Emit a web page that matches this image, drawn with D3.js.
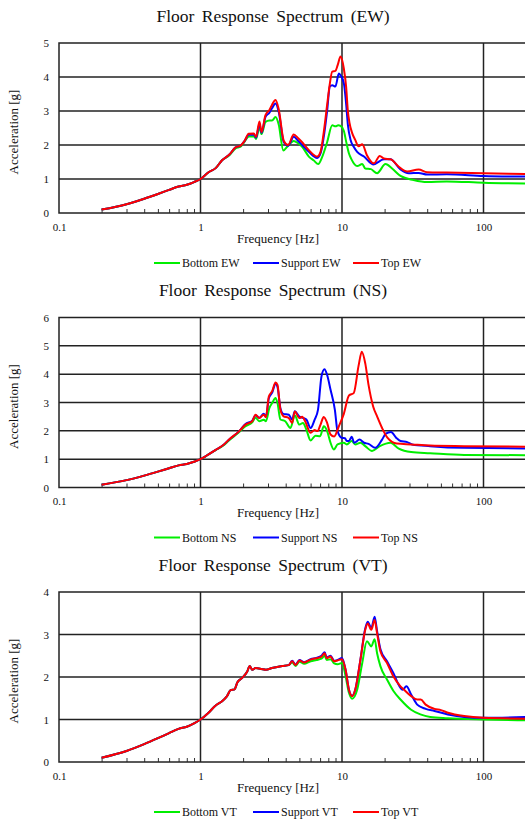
<!DOCTYPE html>
<html>
<head>
<meta charset="utf-8">
<script src="https://cdn.jsdelivr.net/npm/d3@7"></script>
<style>
  body { margin: 0; background: #fff; }
  text { font-family: "Liberation Serif", "Times New Roman", serif; fill: #111; }
</style>
</head>
<body>
<svg id="chart" width="525" height="821"></svg>
<script>
// shared low-frequency part of every spectrum (0.2 - 1 Hz)
const lowBand = [[0.2,0.1],[0.3,0.26],[0.4,0.42],[0.5,0.56],[0.6,0.68],[0.7,0.78],[0.8,0.83],[0.9,0.91],[1.0,1.0]];

// EW
const bottomEW = lowBand.concat([[1.14,1.2],[1.28,1.32],[1.42,1.55],[1.6,1.7],[1.77,1.9],[1.92,1.95],[2.05,2.1],[2.19,2.25],[2.38,2.26],[2.47,2.18],[2.61,2.52],[2.7,2.32],[2.88,2.68],[3.07,2.72],[3.2,2.72],[3.39,2.82],[3.57,2.6],[3.85,1.84],[4.16,1.98],[4.56,2.12],[4.9,2.05],[5.23,1.95],[5.83,1.66],[6.3,1.55],[6.8,1.44],[7.2,1.62],[7.85,2.08],[8.53,2.58],[9.0,2.55],[9.4,2.58],[9.76,2.56],[10.3,2.42],[10.7,2.1],[11.2,1.75],[11.6,1.6],[12.8,1.38],[13.9,1.44],[14.6,1.31],[16,1.29],[17.7,1.17],[20.3,1.44],[22.7,1.3],[25.9,1.09],[32,0.97],[40,0.91],[55,0.93],[100,0.89],[200,0.87]]);
const supportEW = lowBand.concat([[1.14,1.2],[1.28,1.32],[1.42,1.55],[1.6,1.72],[1.77,1.93],[1.92,1.98],[2.05,2.12],[2.19,2.3],[2.38,2.3],[2.47,2.22],[2.61,2.62],[2.7,2.36],[2.88,2.83],[3.07,2.95],[3.2,3.08],[3.39,3.22],[3.57,2.98],[3.88,2.08],[4.16,1.98],[4.56,2.24],[4.9,2.12],[5.23,2.0],[5.83,1.8],[6.68,1.62],[7.05,1.75],[7.5,2.35],[7.85,3.0],[8.2,3.72],[8.53,3.76],[8.98,3.72],[9.5,4.1],[9.76,4.05],[10.3,3.82],[10.7,3.2],[11.0,2.6],[11.5,2.15],[12.1,1.95],[12.8,1.8],[14.3,1.66],[16.6,1.43],[19.8,1.58],[22,1.58],[25.9,1.28],[29.6,1.17],[34.8,1.18],[40,1.13],[55,1.14],[100,1.09],[200,1.07]]);
const topEW = lowBand.concat([[1.14,1.2],[1.28,1.32],[1.42,1.55],[1.6,1.72],[1.77,1.93],[1.92,1.98],[2.05,2.12],[2.19,2.33],[2.38,2.34],[2.47,2.24],[2.61,2.69],[2.7,2.38],[2.88,2.88],[3.07,3.03],[3.2,3.18],[3.39,3.32],[3.57,3.05],[3.88,2.12],[4.16,2.0],[4.56,2.31],[4.9,2.2],[5.23,2.08],[5.83,1.85],[6.68,1.66],[7.05,1.8],[7.5,2.5],[7.85,3.18],[8.2,3.8],[8.53,4.16],[8.98,4.18],[9.32,4.35],[9.76,4.6],[10.3,4.25],[10.7,3.7],[11.0,3.0],[11.3,2.65],[11.8,2.35],[12.4,2.15],[13.1,1.96],[13.9,2.02],[15,1.7],[16.8,1.46],[18.5,1.68],[19.8,1.6],[22,1.58],[25.2,1.36],[28.9,1.22],[34.8,1.28],[39.9,1.2],[55,1.19],[100,1.17],[200,1.15]]);

// NS
const bottomNS = lowBand.concat([[1.1,1.12],[1.28,1.32],[1.45,1.48],[1.58,1.65],[1.87,1.95],[2.08,2.16],[2.32,2.3],[2.45,2.46],[2.6,2.34],[2.8,2.39],[2.9,2.34],[3.07,2.81],[3.21,2.98],[3.39,3.16],[3.5,2.98],[3.67,2.4],[3.97,2.34],[4.32,2.1],[4.64,2.54],[5.0,2.22],[5.3,2.28],[5.6,2.04],[6.0,1.66],[6.5,1.83],[7.0,1.81],[7.43,2.16],[7.85,1.99],[8.3,1.58],[8.75,1.34],[9.3,1.52],[10.3,1.58],[10.8,1.52],[11.7,1.64],[12.4,1.52],[13.5,1.58],[14.6,1.46],[16.3,1.29],[18.5,1.46],[22,1.58],[25.2,1.37],[30.8,1.25],[42,1.21],[73,1.15],[200,1.14]]);
const supportNS = lowBand.concat([[1.1,1.12],[1.28,1.33],[1.45,1.5],[1.58,1.68],[1.87,1.98],[2.08,2.24],[2.32,2.36],[2.45,2.55],[2.6,2.46],[2.8,2.6],[2.9,2.5],[3.04,3.15],[3.21,3.35],[3.39,3.66],[3.5,3.55],[3.67,2.8],[3.85,2.6],[4.21,2.57],[4.44,2.4],[4.64,2.69],[5.0,2.5],[5.3,2.46],[5.6,2.4],[6.0,2.1],[6.4,2.39],[6.77,2.75],[7.16,3.92],[7.52,4.17],[7.85,3.97],[8.3,3.45],[8.9,2.75],[9.3,1.99],[10.0,1.75],[10.5,1.74],[10.8,1.64],[11.2,1.64],[11.7,1.79],[12.2,1.58],[13.3,1.69],[14.3,1.58],[15.4,1.54],[17.2,1.4],[19.2,1.69],[20.4,1.9],[22.2,1.96],[24.2,1.75],[25.9,1.64],[28.9,1.6],[31.3,1.52],[42,1.46],[73,1.4],[200,1.38]]);
const topNS = lowBand.concat([[1.1,1.12],[1.28,1.33],[1.45,1.5],[1.58,1.68],[1.87,1.98],[2.08,2.22],[2.32,2.34],[2.45,2.57],[2.6,2.45],[2.8,2.57],[2.9,2.48],[3.04,3.21],[3.21,3.4],[3.39,3.71],[3.5,3.62],[3.67,2.75],[3.85,2.52],[4.21,2.45],[4.44,2.28],[4.64,2.68],[5.0,2.45],[5.23,2.5],[5.5,2.33],[6.0,1.93],[6.4,2.03],[6.7,1.99],[7.05,2.22],[7.43,2.49],[7.85,2.28],[8.3,1.87],[8.8,1.8],[9.5,2.16],[10.3,2.6],[11.2,3.25],[12.1,3.33],[13.1,4.3],[13.8,4.79],[14.6,4.38],[15.4,3.62],[16.6,2.86],[17.7,2.51],[19.2,2.1],[21,1.75],[24.4,1.55],[30.8,1.52],[42,1.48],[73,1.46],[200,1.44]]);

// VT
const riseVT = [[1.14,1.16],[1.28,1.33],[1.42,1.43],[1.54,1.55],[1.63,1.69],[1.74,1.71],[1.82,1.87],[1.97,1.98],[2.14,2.13],[2.23,2.26],[2.32,2.17],[2.45,2.21],[2.7,2.19],[2.9,2.17],[3.2,2.21],[3.78,2.26],[4.2,2.28]];
const bottomVT = lowBand.concat(riseVT, [[4.44,2.34],[4.7,2.26],[5.0,2.36],[5.4,2.31],[6.0,2.37],[6.6,2.4],[7.16,2.43],[7.54,2.5],[7.8,2.4],[8.3,2.42],[8.8,2.32],[9.3,2.3],[10.0,2.33],[10.6,2.02],[11.2,1.63],[11.8,1.49],[12.8,1.7],[13.9,2.33],[15,2.84],[16.1,2.72],[17.0,2.89],[17.7,2.56],[18.7,2.25],[20.8,1.94],[23.1,1.67],[25.9,1.47],[30.8,1.23],[35.8,1.12],[42,1.06],[56,1.03],[100,1.0],[200,0.98]]);
const supportVT = lowBand.concat(riseVT, [[4.44,2.38],[4.7,2.29],[5.0,2.4],[5.4,2.35],[6.0,2.42],[6.6,2.45],[7.16,2.5],[7.54,2.58],[7.8,2.46],[8.3,2.5],[8.8,2.38],[9.3,2.4],[10.0,2.45],[10.6,2.17],[11.2,1.7],[11.8,1.56],[12.4,1.7],[13.5,2.41],[14.6,3.14],[15.2,3.3],[16.1,3.15],[17.0,3.42],[17.7,3.08],[18.7,2.65],[20.8,2.37],[23.1,2.09],[25.2,1.81],[26.8,1.7],[28.5,1.78],[30.8,1.59],[34,1.35],[39,1.25],[45,1.2],[56,1.12],[73,1.06],[100,1.04],[200,1.06]]);
const topVT = lowBand.concat(riseVT, [[4.44,2.37],[4.7,2.28],[5.0,2.39],[5.4,2.34],[6.0,2.41],[6.6,2.44],[7.16,2.48],[7.54,2.56],[7.8,2.44],[8.3,2.48],[8.8,2.37],[9.3,2.39],[10.0,2.42],[10.6,2.17],[11.2,1.7],[11.8,1.55],[12.4,1.7],[13.5,2.41],[14.6,3.11],[15.2,3.26],[16.1,3.11],[17.0,3.34],[17.7,3.03],[18.7,2.6],[20.8,2.33],[23.1,2.01],[25.9,1.78],[27.5,1.7],[30.8,1.55],[34,1.47],[36,1.47],[39,1.35],[45,1.25],[50,1.22],[56,1.16],[73,1.08],[100,1.04],[200,1.02]]);

const xTicks = [0.1, 1, 10, 100];
const colors = ["#00ee00", "#0000ff", "#ff0000"];

const charts = [
  { dir: "EW", top: 43,    yMax: 5, series: [bottomEW, supportEW, topEW] },
  { dir: "NS", top: 317.5, yMax: 6, series: [bottomNS, supportNS, topNS] },
  { dir: "VT", top: 592,   yMax: 4, series: [bottomVT, supportVT, topVT] }
];

const svg = d3.select("#chart");
const plotH = 170;
const x = d3.scaleLog().domain([0.1, 1000]).range([59, 625]);
const minorTicks = [];
[0.1, 1, 10, 100].forEach(d => { for (let k = 2; k <= 9; k++) minorTicks.push(d * k); });

charts.forEach((c, ci) => {
  const bottom = c.top + plotH;
  const y = d3.scaleLinear().domain([0, c.yMax]).range([bottom, c.top]);
  const g = svg.append("g");

  g.append("text")
    .attr("x", 273).attr("y", c.top - 21.5)
    .attr("text-anchor", "middle")
    .style("font-size", "17.5px").style("word-spacing", "3px")
    .text("Floor Response Spectrum (" + c.dir + ")");

  // grid
  g.selectAll(".hg").data(d3.range(1, c.yMax)).enter().append("line")
    .attr("x1", 59).attr("x2", 625)
    .attr("y1", d => y(d)).attr("y2", d => y(d))
    .attr("stroke", "#222").attr("stroke-width", 1.5);
  g.selectAll(".vg").data([1, 10, 100]).enter().append("line")
    .attr("x1", d => x(d)).attr("x2", d => x(d))
    .attr("y1", c.top).attr("y2", bottom)
    .attr("stroke", "#222").attr("stroke-width", 1.5);

  // minor ticks on the bottom edge
  g.append("g").attr("transform", `translate(0,${bottom})`)
    .call(d3.axisBottom(x).tickValues(minorTicks).tickSize(-4).tickFormat(""))
    .call(a => a.select(".domain").remove())
    .call(a => a.selectAll("line").attr("stroke", "#333").attr("stroke-width", 1));

  // data lines
  const clipId = "clip" + ci;
  svg.append("clipPath").attr("id", clipId).append("rect")
    .attr("x", 59).attr("y", c.top).attr("width", 566).attr("height", plotH);
  const line = d3.line().x(d => x(d[0])).y(d => y(d[1])).curve(d3.curveMonotoneX);
  g.append("g").attr("clip-path", `url(#${clipId})`)
    .selectAll("path").data(c.series).enter().append("path")
    .attr("d", line)
    .attr("fill", "none")
    .attr("stroke", (d, i) => colors[i])
    .attr("stroke-width", 2)
    .attr("stroke-linejoin", "round");

  // border
  g.append("rect").attr("x", 59).attr("y", c.top).attr("width", 566).attr("height", plotH)
    .attr("fill", "none").attr("stroke", "#222").attr("stroke-width", 1.5);

  // axes labels
  g.append("g").attr("transform", `translate(0,${bottom})`)
    .call(d3.axisBottom(x).tickValues(xTicks).tickFormat(d => String(d)).tickSize(0).tickPadding(10))
    .call(a => a.select(".domain").remove())
    .call(a => a.selectAll("text").style("font-size", "11px").attr("font-family", null));
  g.append("g").attr("transform", "translate(59,0)")
    .call(d3.axisLeft(y).ticks(c.yMax).tickFormat(d3.format("d")).tickSize(0).tickPadding(10))
    .call(a => a.select(".domain").remove())
    .call(a => a.selectAll("text").style("font-size", "11px").attr("font-family", null));

  g.append("text")
    .attr("x", 278).attr("y", bottom + 29.5)
    .attr("text-anchor", "middle").style("font-size", "13px")
    .text("Frequency [Hz]");
  g.append("text")
    .attr("transform", `translate(18,${c.top + plotH / 2 + 4}) rotate(-90)`)
    .attr("text-anchor", "middle").style("font-size", "13px")
    .text("Acceleration [g]");

  // legend
  const names = ["Bottom ", "Support ", "Top "];
  const legX = [154, 253, 353];
  names.forEach((n, i) => {
    g.append("line").attr("x1", legX[i]).attr("x2", legX[i] + 26)
      .attr("y1", bottom + 50).attr("y2", bottom + 50)
      .attr("stroke", colors[i]).attr("stroke-width", 2);
    g.append("text").attr("x", legX[i] + 28).attr("y", bottom + 54)
      .style("font-size", "12px").text(n + c.dir);
  });
});
</script>
</body>
</html>
